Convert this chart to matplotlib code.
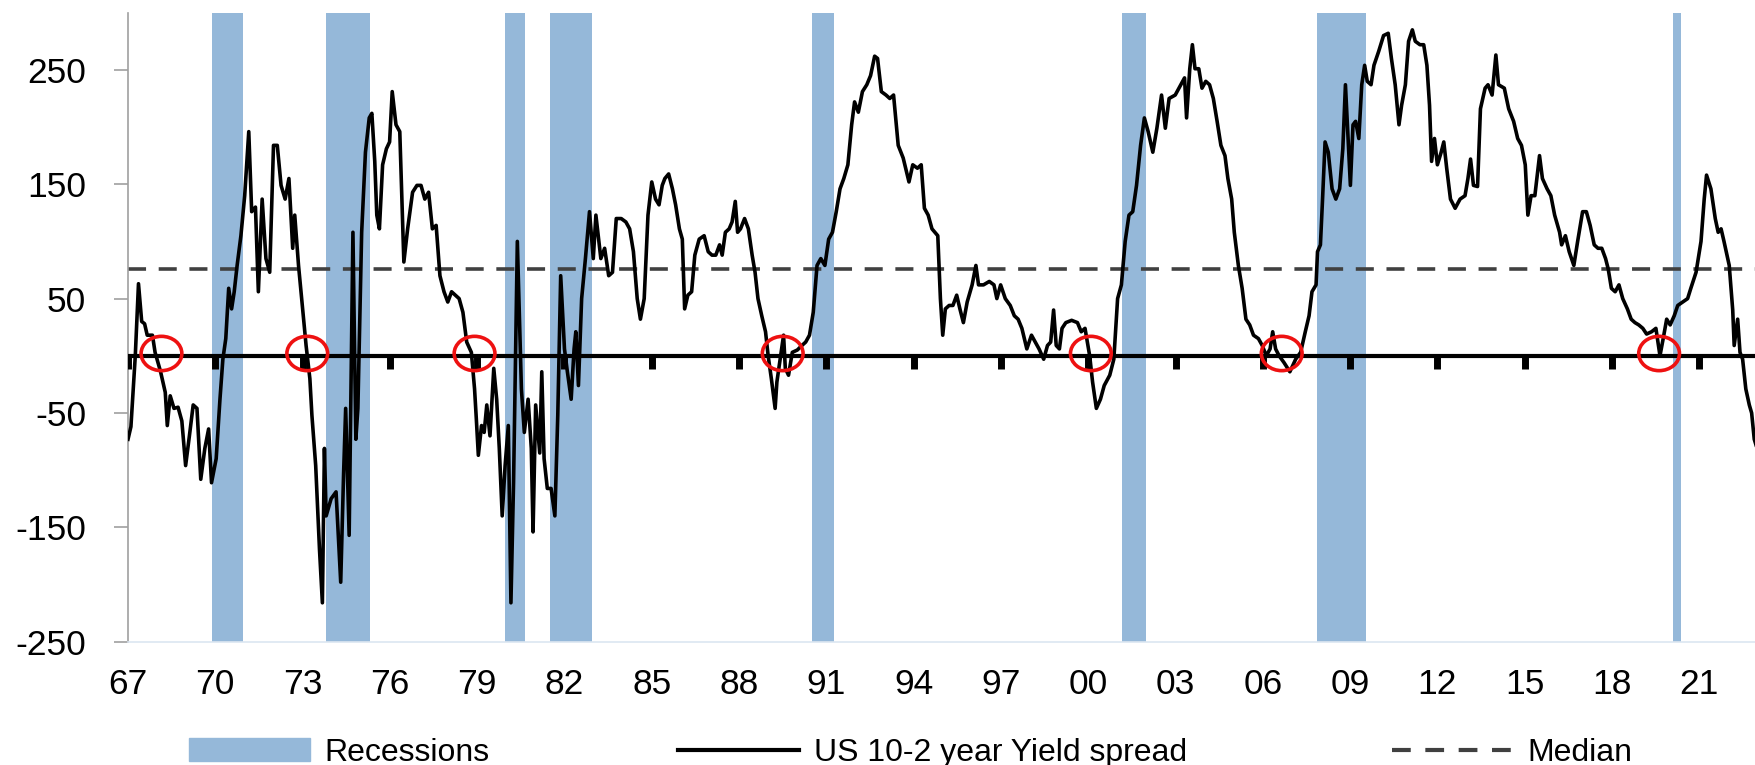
import matplotlib
matplotlib.use("Agg")
import matplotlib.pyplot as plt
from matplotlib.patches import Patch, Ellipse
from matplotlib.lines import Line2D

plt.rcParams['font.family'] = ['Liberation Sans', 'DejaVu Sans']
plt.rcParams['axes.unicode_minus'] = False

# US 10y-2y spread (bp), decimal year / value
dates = [
    1967.00, 1967.10, 1967.25, 1967.36, 1967.47, 1967.57, 1967.66, 1967.84, 1967.93, 1968.12,
    1968.28, 1968.35, 1968.45, 1968.58, 1968.72, 1968.85, 1968.98, 1969.11, 1969.24, 1969.37,
    1969.50, 1969.64, 1969.77, 1969.87, 1970.03, 1970.16, 1970.26, 1970.36, 1970.46, 1970.56,
    1970.65, 1970.75, 1970.88, 1971.01, 1971.15, 1971.25, 1971.38, 1971.48, 1971.61, 1971.74,
    1971.87, 1972.00, 1972.13, 1972.26, 1972.40, 1972.53, 1972.66, 1972.73, 1972.86, 1972.99,
    1973.12, 1973.25, 1973.32, 1973.45, 1973.58, 1973.68, 1973.75, 1973.81, 1973.98, 1974.15,
    1974.31, 1974.41, 1974.48, 1974.60, 1974.73, 1974.83, 1974.90, 1975.03, 1975.16, 1975.29,
    1975.38, 1975.48, 1975.55, 1975.64, 1975.75, 1975.88, 1975.99, 1976.08, 1976.21, 1976.34,
    1976.48, 1976.61, 1976.78, 1976.93, 1977.07, 1977.20, 1977.33, 1977.46, 1977.59, 1977.72,
    1977.86, 1977.99, 1978.12, 1978.25, 1978.38, 1978.51, 1978.64, 1978.80, 1978.91, 1978.97,
    1979.04, 1979.15, 1979.24, 1979.33, 1979.44, 1979.57, 1979.67, 1979.76, 1979.86, 1979.96,
    1980.07, 1980.16, 1980.25, 1980.38, 1980.52, 1980.62, 1980.75, 1980.86, 1980.92, 1981.01,
    1981.15, 1981.22, 1981.30, 1981.41, 1981.54, 1981.67, 1981.77, 1981.87, 1982.00, 1982.10,
    1982.23, 1982.33, 1982.39, 1982.48, 1982.59, 1982.72, 1982.86, 1982.99, 1983.08, 1983.25,
    1983.38, 1983.52, 1983.65, 1983.78, 1983.95, 1984.11, 1984.24, 1984.37, 1984.50, 1984.61,
    1984.74, 1984.87, 1985.00, 1985.13, 1985.25, 1985.36, 1985.45, 1985.58, 1985.71, 1985.82,
    1985.95, 1986.05, 1986.13, 1986.24, 1986.37, 1986.48, 1986.63, 1986.80, 1986.94, 1987.07,
    1987.20, 1987.33, 1987.42, 1987.53, 1987.66, 1987.76, 1987.87, 1987.95, 1988.05, 1988.19,
    1988.32, 1988.45, 1988.55, 1988.65, 1988.78, 1988.91, 1989.00, 1989.11, 1989.24, 1989.30,
    1989.40, 1989.53, 1989.59, 1989.70, 1989.83, 1990.00, 1990.16, 1990.29, 1990.42, 1990.55,
    1990.68, 1990.81, 1990.95, 1991.08, 1991.21, 1991.34, 1991.47, 1991.60, 1991.74, 1991.87,
    1991.97, 1992.10, 1992.24, 1992.39, 1992.52, 1992.66, 1992.76, 1992.89, 1993.05, 1993.18,
    1993.31, 1993.47, 1993.64, 1993.84, 1993.97, 1994.13, 1994.26, 1994.37, 1994.50, 1994.63,
    1994.83, 1994.92, 1995.00, 1995.09, 1995.22, 1995.35, 1995.48, 1995.59, 1995.71, 1995.84,
    1996.01, 1996.14, 1996.23, 1996.40, 1996.60, 1996.76, 1996.86, 1996.99, 1997.15, 1997.32,
    1997.46, 1997.59, 1997.72, 1997.89, 1998.05, 1998.18, 1998.31, 1998.47, 1998.60, 1998.71,
    1998.81, 1998.90, 1999.01, 1999.10, 1999.23, 1999.43, 1999.63, 1999.76, 1999.89, 2000.05,
    2000.15, 2000.28, 2000.42, 2000.55, 2000.74, 2000.88, 2001.01, 2001.14, 2001.27, 2001.40,
    2001.53, 2001.66, 2001.80, 2001.93, 2002.06, 2002.22, 2002.36, 2002.52, 2002.65, 2002.78,
    2002.99, 2003.18, 2003.31, 2003.38, 2003.49, 2003.58, 2003.67, 2003.80, 2003.91, 2004.04,
    2004.17, 2004.30, 2004.43, 2004.56, 2004.70, 2004.80, 2004.93, 2005.02, 2005.16, 2005.29,
    2005.42, 2005.55, 2005.68, 2005.85, 2005.98, 2006.12, 2006.25, 2006.34, 2006.44, 2006.56,
    2006.73, 2006.93, 2007.13, 2007.30, 2007.46, 2007.59, 2007.69, 2007.83, 2007.88, 2007.98,
    2008.05, 2008.14, 2008.25, 2008.38, 2008.51, 2008.64, 2008.75, 2008.84, 2008.93, 2009.01,
    2009.10, 2009.19, 2009.30, 2009.40, 2009.50, 2009.59, 2009.72, 2009.82, 2009.98, 2010.15,
    2010.31, 2010.42, 2010.55, 2010.68, 2010.77, 2010.90, 2011.01, 2011.14, 2011.24, 2011.40,
    2011.53, 2011.64, 2011.73, 2011.80, 2011.90, 2012.00, 2012.13, 2012.22, 2012.32, 2012.45,
    2012.61, 2012.78, 2012.95, 2013.05, 2013.14, 2013.24, 2013.38, 2013.48, 2013.64, 2013.74,
    2013.88, 2014.01, 2014.10, 2014.30, 2014.45, 2014.62, 2014.76, 2014.89, 2015.02, 2015.11,
    2015.22, 2015.35, 2015.51, 2015.61, 2015.77, 2015.90, 2016.03, 2016.20, 2016.27, 2016.40,
    2016.53, 2016.69, 2016.82, 2016.99, 2017.12, 2017.25, 2017.39, 2017.52, 2017.65, 2017.78,
    2017.87, 2017.98, 2018.11, 2018.24, 2018.37, 2018.53, 2018.66, 2018.79, 2018.92, 2019.06,
    2019.19, 2019.36, 2019.51, 2019.65, 2019.76, 2019.88, 2020.00, 2020.14, 2020.26, 2020.43,
    2020.60, 2020.71, 2020.89, 2021.06, 2021.17, 2021.25, 2021.40, 2021.55, 2021.65, 2021.75,
    2021.85, 2022.03, 2022.15, 2022.20, 2022.32, 2022.40, 2022.49, 2022.60, 2022.72, 2022.80,
    2022.89, 2022.95,
]
spread = [
    -73, -62, 0, 63, 30, 28, 18, 18, 3, -14,
    -32, -61, -35, -46, -45, -57, -96, -70, -43, -46,
    -108, -81, -64, -111, -90, -38, -3, 15, 59, 41,
    56, 79, 105, 140, 196, 126, 130, 56, 137, 85,
    73, 184, 184, 149, 137, 155, 94, 123, 79, 44,
    9, -20, -52, -96, -169, -216, -81, -140, -125, -119,
    -198, -102, -46, -157, 108, -73, -46, 108, 178, 208,
    212, 170, 123, 111, 167, 181, 187, 231, 202, 196,
    82, 111, 143, 149, 149, 137, 143, 111, 114, 70,
    56, 47, 56, 53, 50, 38, 12, 3, -29, -55,
    -87, -61, -67, -43, -70, -11, -38, -81, -140, -96,
    -61, -216, -111, 100, -29, -67, -38, -81, -154, -43,
    -85, -14, -90, -116, -116, -140, -52, 70, 6, -14,
    -38, 6, 21, -26, 50, 85, 126, 85, 123, 85,
    94, 70, 73, 120, 120, 117, 111, 91, 50, 32,
    50, 123, 152, 137, 132, 149, 155, 159, 146, 132,
    111, 102, 41, 53, 56, 88, 102, 105, 91, 88,
    88, 97, 88, 108, 111, 117, 135, 108, 111, 120,
    111, 88, 73, 50, 35, 21, 0, -20, -46, -23,
    -5, 18, -11, -17, 3, 5, 9, 12, 18, 38,
    79, 85, 79, 102, 108, 126, 146, 155, 167, 202,
    222, 213, 231, 237, 245, 262, 260, 231, 228, 225,
    228, 184, 173, 152, 167, 164, 167, 129, 123, 111,
    105, 50, 18, 41, 44, 44, 53, 41, 29, 47,
    62, 79, 62, 62, 65, 62, 50, 62, 50, 44,
    35, 32, 24, 6, 18, 12, 6, -3, 9, 12,
    40, 9, 6, 24, 29, 31, 29, 21, 24, 0,
    -23, -46, -38, -26, -17, -3, 50, 62, 100, 123,
    126, 149, 184, 208, 196, 178, 199, 228, 199, 225,
    228, 237, 243, 208, 251, 272, 251, 251, 234, 240,
    237, 225, 205, 184, 175, 155, 137, 108, 79, 59,
    32, 27, 18, 15, 9, 0, 6, 21, 6, 0,
    -6, -14, -3, 3, 21, 35, 56, 62, 91, 97,
    135, 187, 178, 146, 137, 146, 181, 237, 190, 149,
    202, 205, 190, 237, 254, 240, 237, 254, 266, 280,
    282, 260, 237, 202, 219, 237, 275, 285, 275, 272,
    272, 254, 219, 170, 190, 167, 178, 187, 164, 137,
    129, 137, 140, 155, 172, 149, 148, 216, 234, 237,
    228, 263, 237, 234, 216, 205, 190, 184, 167, 123,
    140, 140, 175, 155, 146, 140, 123, 108, 97, 105,
    91, 79, 100, 126, 126, 114, 97, 94, 94, 85,
    76, 59, 56, 62, 50, 41, 32, 29, 27, 24,
    19, 21, 24, 0, 15, 32, 27, 35, 44, 47,
    50, 59, 73, 100, 137, 158, 146, 120, 108, 111,
    100, 79, 40, 9, 32, 3, -3, -29, -43, -50,
    -73, -78,
]
median = 76

# NBER recessions (start, end) as read from the shading
rec_start = [1969.87, 1973.80, 1979.97, 1981.50, 1990.50, 2001.16, 2007.86, 2020.09]
rec_end = [1970.96, 1975.30, 1980.65, 1982.95, 1991.26, 2001.97, 2009.54, 2020.38]

# red circles where the curve inverts
circle_x = [1968.15, 1973.16, 1978.91, 1989.50, 2000.09, 2006.65, 2019.62]

tick_years = list(range(1967, 2022, 3))
tick_labels = ['%02d' % (y % 100) for y in tick_years]

fig = plt.figure(figsize=(17.56, 7.65), dpi=100)
ax = fig.add_axes([0.0729, 0.1612, 0.9271, 0.8222])

rec_color = '#95b8d9'
for s, e in zip(rec_start, rec_end):
    ax.axvspan(s, e, color=rec_color, lw=0, zorder=1)

ax.axhline(median, color='#404040', lw=2.6, dashes=(5, 3.5), zorder=2)
ax.axhline(0, color='black', lw=3, zorder=3)
ax.plot(tick_years, [0] * len(tick_years), ls='none', marker=3,
        ms=9, mew=5, color='black', zorder=3)
ax.plot(dates, spread, color='black', lw=2.6, zorder=4)

for cx in circle_x:
    ax.add_patch(Ellipse((cx, 2), 1.4, 30, fill=False, ec='#ee1111', lw=2.6, zorder=5))

ax.set_xlim(1967, 2022.95)
ax.set_ylim(-250, 300)
ax.set_yticks([-250, -150, -50, 50, 150, 250])
ax.set_xticks(tick_years)
ax.set_xticklabels(tick_labels)

for side in ['top', 'right']:
    ax.spines[side].set_visible(False)
ax.spines['left'].set_color('#a0a0a0')
ax.spines['left'].set_linewidth(1.2)
ax.spines['bottom'].set_color('#dce6f1')
ax.spines['bottom'].set_linewidth(1.2)
ax.tick_params(axis='y', length=10, width=1.2, color='#a0a0a0', pad=20, labelsize=25.5)
ax.tick_params(axis='x', length=0, pad=19, labelsize=25.5)

leg_kw = dict(frameon=False, loc='center left', borderpad=0, borderaxespad=0,
              fontsize=23, handlelength=3.8, handletextpad=0.45)
fig.legend([Patch(color=rec_color)], ['Recessions'],
           bbox_to_anchor=(0.1076, 0.016), **leg_kw)
fig.legend([Line2D([], [], color='black', lw=3)], ['US 10-2 year Yield spread'],
           bbox_to_anchor=(0.386, 0.016), **leg_kw)
fig.legend([Line2D([], [], color='#404040', lw=3, dashes=(4.5, 3.5))], ['Median'],
           bbox_to_anchor=(0.7927, 0.016), **leg_kw)

fig.savefig('out.png', dpi=100)
